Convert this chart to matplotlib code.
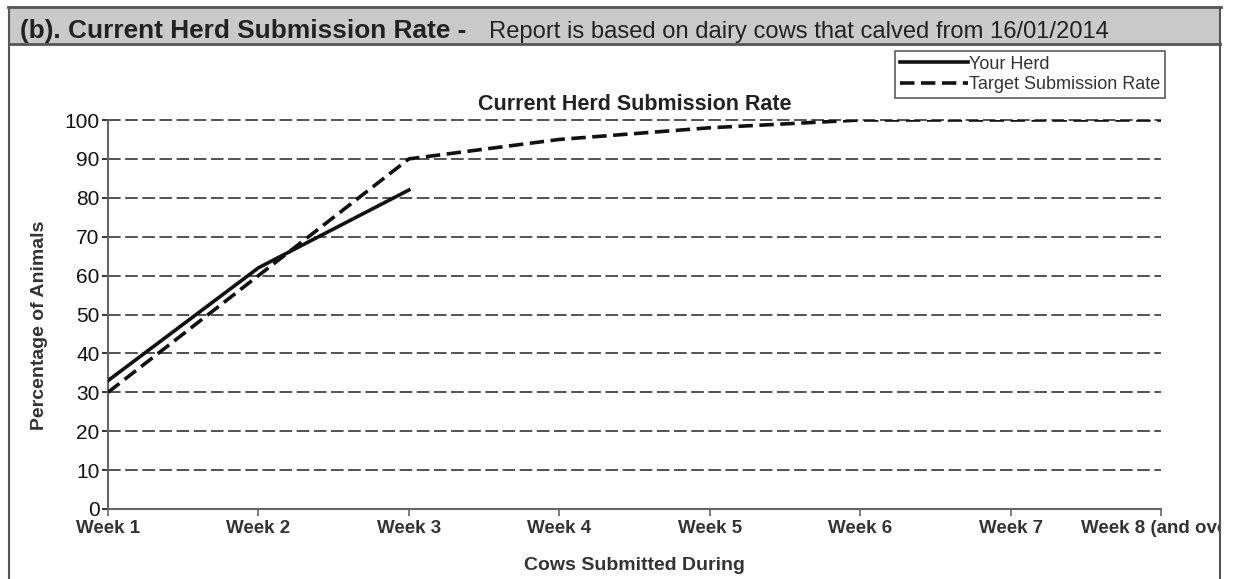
import matplotlib
matplotlib.use('Agg')
import matplotlib.pyplot as plt
from matplotlib.patches import Rectangle
from matplotlib.lines import Line2D

plt.rcParams['font.family'] = ['Liberation Sans', 'DejaVu Sans']

weeks = ['Week 1', 'Week 2', 'Week 3', 'Week 4', 'Week 5', 'Week 6', 'Week 7', 'Week 8 (and over)']
your_herd = [33, 62, 82]
target = [30, 60, 90, 95, 98, 100, 100, 100]
yticks = list(range(0, 101, 10))

fig = plt.figure(figsize=(12.36, 5.79), dpi=100)
W, H = 1236, 579

def fx(px):
    return px / W

def fy(py):
    return 1 - py / H

# report header band and frame
fig.patches.append(Rectangle((fx(9), fy(44)), fx(1211), fy(8) - fy(44), transform=fig.transFigure,
                             facecolor='#c9c9c9', edgecolor='none', zorder=0))
for (x0, y0, x1, y1, lw) in [(8, 7, 1221, 7, 2.0), (9, 44, 1220, 44, 2.0),
                             (9, 7, 9, 579, 1.5), (1220, 7, 1220, 579, 1.5)]:
    fig.add_artist(Line2D([fx(x0), fx(x1)], [fy(y0), fy(y1)], transform=fig.transFigure,
                          color='#555555', lw=lw, zorder=20))
fig.text(fx(20), fy(38), '(b). Current Herd Submission Rate -', fontsize=18.9, fontweight='bold',
         color='#222222', va='baseline')
fig.text(fx(489), fy(38), 'Report is based on dairy cows that calved from 16/01/2014', fontsize=17.1,
         color='#222222', va='baseline')

ax = fig.add_axes([fx(108), fy(509), fx(1161) - fx(108), fy(120) - fy(509)])
x = list(range(len(weeks)))
ax.plot(x[:len(your_herd)], your_herd, color='#111111', lw=2.6, label='Your Herd', zorder=5)
ax.plot(x, target, color='#111111', lw=2.6, dashes=(4, 1.8), label='Target Submission Rate', zorder=5)

ax.set_xlim(0, len(weeks) - 1)
ax.set_ylim(0, 100)
ax.set_yticks(yticks)
ax.set_xticks(x)
ax.set_xticklabels(weeks, fontsize=13.5, fontweight='bold', color='#333333')
ax.tick_params(axis='y', labelsize=15, colors='#111111', length=4, width=1.2, pad=2)
ax.tick_params(axis='x', length=5, width=1.2, pad=3, color='#666666')
for lab in ax.get_yticklabels():
    lab.set_color('#111111')
for s in ['top', 'right']:
    ax.spines[s].set_visible(False)
for s in ['left', 'bottom']:
    ax.spines[s].set_color('#666666')
    ax.spines[s].set_linewidth(1.5)
for v in yticks[1:]:
    ax.axhline(v, color='#444444', lw=1.3, dashes=(7, 2.5), zorder=1, clip_on=False)

ax.set_title('Current Herd Submission Rate', fontsize=15.5, fontweight='bold', color='#222222', pad=7)
ax.set_ylabel('Percentage of Animals', fontsize=14, fontweight='bold', color='#333333')
ax.yaxis.set_label_coords(-0.057, 0.473)
ax.set_xlabel('Cows Submitted During', fontsize=14, fontweight='bold', color='#333333', labelpad=14)

leg = fig.legend(loc='upper left', bbox_to_anchor=(fx(895), fy(51)), fontsize=13, frameon=True,
                 fancybox=False, handlelength=3.8, handletextpad=0.05, borderpad=0.25,
                 labelspacing=0.22, borderaxespad=0)
leg.get_frame().set_edgecolor('#333333')
leg.get_frame().set_linewidth(1.2)
for t in leg.get_texts():
    t.set_color('#333333')

# hide what spills past the right frame
fig.patches.append(Rectangle((fx(1221), 0), 1 - fx(1221), fy(44), transform=fig.transFigure,
                             facecolor='white', edgecolor='none', zorder=15))

fig.savefig('out.png', dpi=100)
